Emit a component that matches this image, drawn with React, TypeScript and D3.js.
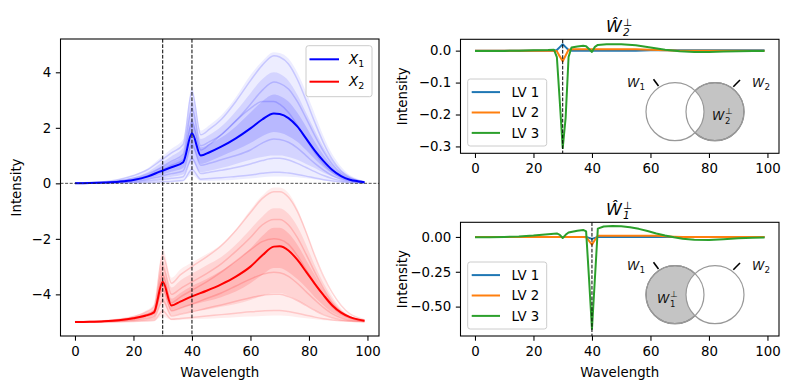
import React, { useEffect, useRef } from 'react';
import * as d3 from 'd3';

// ---- left panel: X1 (blue, spike at 40) and X2 (red, shifted by -5, spike at 30)
const blueX = [0, 5, 10, 15, 20, 25, 29, 33, 37, 40, 43, 46, 50, 55, 60, 64, 68, 70, 73, 76, 79, 82, 85, 88, 91, 94, 97, 99];
const blueMean = [0, 0.01, 0.03, 0.06, 0.12, 0.25, 0.42, 0.58, 0.76, 1.8, 1.0, 1.12, 1.32, 1.62, 1.98, 2.3, 2.52, 2.5, 2.35, 2.05, 1.62, 1.18, 0.8, 0.48, 0.26, 0.13, 0.07, 0.04];
const blueOuterHi = [0.02, 0.03, 0.06, 0.15, 0.3, 0.55, 0.9, 1.25, 1.6, 3.45, 1.9, 2.1, 2.45, 3.1, 3.9, 4.4, 4.72, 4.7, 4.5, 4.0, 3.3, 2.5, 1.7, 1.05, 0.6, 0.3, 0.15, 0.08];
const blueOuterLo = [0, 0, 0.01, 0.01, 0.02, 0.03, 0.05, 0.07, 0.1, 0.3, 0.08, 0.08, 0.1, 0.13, 0.17, 0.22, 0.25, 0.25, 0.24, 0.22, 0.18, 0.14, 0.1, 0.07, 0.05, 0.03, 0.02, 0.01];
const blueMidHi = [0.01, 0.02, 0.05, 0.11, 0.22, 0.42, 0.7, 0.98, 1.3, 3.0, 1.6, 1.75, 2.05, 2.6, 3.25, 3.75, 4.0, 3.95, 3.7, 3.2, 2.55, 1.9, 1.3, 0.8, 0.45, 0.23, 0.12, 0.07];
const blueMidLo = [0, 0.005, 0.01, 0.02, 0.04, 0.09, 0.16, 0.24, 0.32, 0.8, 0.4, 0.45, 0.55, 0.7, 0.85, 0.95, 1.0, 1.0, 0.95, 0.85, 0.7, 0.55, 0.38, 0.24, 0.14, 0.07, 0.04, 0.02];
const blueInHi = [0.01, 0.015, 0.04, 0.08, 0.16, 0.32, 0.55, 0.76, 1.0, 2.3, 1.3, 1.42, 1.65, 2.05, 2.55, 2.95, 3.2, 3.15, 2.95, 2.55, 2.05, 1.5, 1.02, 0.62, 0.34, 0.17, 0.09, 0.05];
const blueInLo = [0, 0.005, 0.02, 0.04, 0.08, 0.17, 0.3, 0.42, 0.55, 1.3, 0.7, 0.8, 0.98, 1.2, 1.45, 1.7, 1.85, 1.82, 1.7, 1.5, 1.2, 0.88, 0.58, 0.35, 0.19, 0.09, 0.05, 0.03];
// a few individual spectra
const blueSamples = [
  [0.01, 0.03, 0.06, 0.14, 0.28, 0.5, 0.8, 1.1, 1.4, 3.3, 1.75, 1.95, 2.3, 2.95, 3.7, 4.25, 4.6, 4.55, 4.3, 3.75, 3.0, 2.2, 1.45, 0.85, 0.45, 0.22, 0.1, 0.06],
  [0, 0.02, 0.04, 0.09, 0.18, 0.35, 0.55, 0.8, 1.05, 2.7, 1.35, 1.5, 1.75, 2.25, 2.85, 3.35, 3.65, 3.6, 3.4, 2.95, 2.35, 1.72, 1.15, 0.68, 0.36, 0.18, 0.09, 0.05],
  [0, 0.01, 0.03, 0.07, 0.14, 0.28, 0.45, 0.65, 0.85, 2.2, 1.2, 1.4, 1.75, 2.25, 2.7, 2.95, 2.95, 2.85, 2.55, 2.1, 1.6, 1.1, 0.7, 0.4, 0.2, 0.1, 0.05, 0.03],
  [0, 0.01, 0.02, 0.04, 0.08, 0.15, 0.25, 0.35, 0.45, 1.4, 0.65, 0.72, 0.85, 1.0, 1.2, 1.45, 1.6, 1.58, 1.48, 1.28, 1.0, 0.72, 0.48, 0.28, 0.15, 0.08, 0.04, 0.02],
  [0, 0, 0.01, 0.02, 0.04, 0.08, 0.13, 0.18, 0.24, 0.9, 0.35, 0.4, 0.47, 0.57, 0.7, 0.82, 0.9, 0.9, 0.84, 0.72, 0.57, 0.42, 0.28, 0.17, 0.09, 0.05, 0.02, 0.01],
  [0, 0, 0, 0.01, 0.02, 0.03, 0.05, 0.07, 0.1, 0.5, 0.15, 0.17, 0.2, 0.25, 0.3, 0.36, 0.4, 0.4, 0.37, 0.32, 0.26, 0.19, 0.13, 0.08, 0.05, 0.02, 0.01, 0.01],
];

const redX = [0, 5, 10, 15, 20, 24, 27, 30, 33, 36, 40, 45, 50, 55, 60, 64, 68, 70, 73, 76, 79, 82, 85, 88, 91, 94, 97, 99];
const redMean = [-5.0, -4.99, -4.97, -4.93, -4.86, -4.77, -4.65, -3.55, -4.4, -4.26, -4.07, -3.87, -3.64, -3.36, -3.0, -2.6, -2.28, -2.27, -2.42, -2.75, -3.18, -3.62, -4.03, -4.4, -4.66, -4.82, -4.91, -4.95];
const redOuterHi = [-4.98, -4.97, -4.94, -4.88, -4.78, -4.6, -4.35, -2.35, -3.4, -3.1, -2.85, -2.55, -2.2, -1.65, -0.95, -0.45, -0.15, -0.15, -0.35, -0.9, -1.7, -2.6, -3.4, -4.05, -4.5, -4.75, -4.88, -4.93];
const redOuterLo = [-5.0, -5.0, -5.0, -4.99, -4.98, -4.97, -4.95, -4.8, -4.93, -4.92, -4.9, -4.88, -4.85, -4.82, -4.8, -4.78, -4.76, -4.76, -4.78, -4.82, -4.86, -4.9, -4.93, -4.95, -4.97, -4.98, -4.98, -4.99];
const redMidHi = [-4.99, -4.98, -4.95, -4.9, -4.81, -4.66, -4.48, -2.8, -3.75, -3.5, -3.25, -2.95, -2.65, -2.2, -1.65, -1.2, -0.9, -0.9, -1.1, -1.55, -2.2, -2.95, -3.6, -4.15, -4.55, -4.78, -4.89, -4.94];
const redMidLo = [-5.0, -5.0, -4.99, -4.97, -4.94, -4.9, -4.85, -4.3, -4.75, -4.7, -4.62, -4.55, -4.45, -4.35, -4.2, -4.05, -3.95, -3.95, -4.05, -4.2, -4.38, -4.56, -4.72, -4.84, -4.91, -4.95, -4.97, -4.98];
const redInHi = [-4.99, -4.98, -4.96, -4.91, -4.83, -4.71, -4.55, -3.2, -4.15, -3.95, -3.7, -3.45, -3.15, -2.8, -2.35, -1.9, -1.6, -1.6, -1.8, -2.2, -2.75, -3.3, -3.85, -4.3, -4.6, -4.79, -4.89, -4.94];
const redInLo = [-5.0, -4.99, -4.98, -4.95, -4.9, -4.83, -4.75, -3.9, -4.6, -4.5, -4.38, -4.25, -4.1, -3.9, -3.6, -3.3, -3.05, -3.05, -3.2, -3.45, -3.75, -4.1, -4.4, -4.65, -4.8, -4.9, -4.95, -4.97];
const redSamples = [
  [-4.98, -4.97, -4.95, -4.9, -4.8, -4.65, -4.45, -2.6, -3.6, -3.3, -3.0, -2.65, -2.25, -1.7, -1.05, -0.55, -0.3, -0.3, -0.5, -1.0, -1.75, -2.6, -3.35, -3.95, -4.4, -4.7, -4.85, -4.92],
  [-4.99, -4.98, -4.96, -4.92, -4.84, -4.73, -4.58, -3.0, -4.0, -3.8, -3.55, -3.25, -2.9, -2.45, -1.95, -1.5, -1.3, -1.3, -1.5, -1.95, -2.55, -3.2, -3.8, -4.3, -4.62, -4.8, -4.9, -4.94],
  [-5, -4.99, -4.97, -4.94, -4.88, -4.8, -4.68, -3.3, -4.3, -4.1, -3.85, -3.55, -3.2, -2.8, -2.4, -2.1, -2.0, -2.02, -2.2, -2.6, -3.1, -3.6, -4.05, -4.45, -4.7, -4.85, -4.93, -4.96],
  [-5, -5, -4.98, -4.96, -4.92, -4.87, -4.8, -3.8, -4.6, -4.5, -4.35, -4.15, -3.95, -3.7, -3.45, -3.28, -3.2, -3.22, -3.35, -3.6, -3.9, -4.2, -4.48, -4.7, -4.84, -4.92, -4.96, -4.98],
  [-5, -5, -4.99, -4.98, -4.95, -4.92, -4.88, -4.2, -4.78, -4.72, -4.63, -4.5, -4.38, -4.25, -4.12, -4.04, -4.0, -4.0, -4.08, -4.22, -4.4, -4.58, -4.74, -4.85, -4.92, -4.96, -4.98, -4.99],
  [-5, -5, -5, -4.99, -4.98, -4.96, -4.94, -4.6, -4.9, -4.87, -4.83, -4.78, -4.73, -4.68, -4.63, -4.6, -4.58, -4.58, -4.62, -4.68, -4.75, -4.82, -4.88, -4.92, -4.95, -4.97, -4.98, -4.99],
];

// ---- right top: W2 perp loadings
const w2X = [0, 5, 10, 15, 20, 25, 27, 28, 29, 30, 31, 32, 33, 35, 37, 38, 39, 40, 41, 42, 45, 50, 55, 60, 65, 70, 75, 80, 85, 90, 95, 99];
const w2Lv1 = [0, 0, 0, 0, 0, 0, 0, 0.002, 0.011, 0.02, 0.011, 0.002, 0, 0, 0, 0, 0, 0, 0, 0, 0, 0, 0, 0.001, 0.001, 0.001, 0.001, 0.001, 0.001, 0.001, 0.001, 0.001];
const w2Lv2 = [0, 0, 0, 0, 0, 0, 0, -0.002, -0.018, -0.033, -0.015, 0.003, 0.004, 0.004, 0.004, 0.004, 0.004, 0.004, 0.004, 0.004, 0.004, 0.004, 0.004, 0.003, 0.001, 0, 0, 0, 0, 0, 0, 0];
const w2Lv3 = [-0.001, -0.001, -0.001, 0, 0.001, 0.002, 0.003, -0.02, -0.16, -0.305, -0.21, -0.02, 0.01, 0.013, 0.015, 0.014, 0.005, -0.004, 0.012, 0.018, 0.02, 0.02, 0.017, 0.01, 0.003, -0.002, -0.004, -0.004, -0.003, -0.002, -0.001, -0.001];

// ---- right bottom: W1 perp loadings
const w1X = [0, 5, 10, 15, 20, 25, 28, 29, 30, 31, 32, 35, 37, 38, 39, 40, 41, 42, 44, 47, 50, 53, 56, 59, 62, 65, 68, 71, 75, 80, 85, 90, 95, 99];
const w1Lv1 = [0, 0, 0, 0, 0, 0, 0, 0, 0, 0, 0, 0, 0, 0, -0.007, -0.014, -0.007, 0, 0, 0, 0, 0, 0, 0, 0, 0, 0, 0, 0, 0, 0, 0, 0, 0];
const w1Lv2 = [0, 0, 0, 0, 0, 0, 0, 0, 0, 0, 0, 0, 0, -0.002, -0.028, -0.055, -0.022, 0.008, 0.009, 0.009, 0.009, 0.009, 0.009, 0.009, 0.008, 0.005, 0.002, 0, 0, 0, 0, 0, 0, 0];
const w1Lv3 = [-0.002, -0.002, 0, 0.003, 0.01, 0.02, 0.025, 0.015, -0.008, 0.015, 0.032, 0.045, 0.05, 0.04, -0.3, -0.66, -0.3, 0.06, 0.075, 0.078, 0.077, 0.07, 0.058, 0.042, 0.025, 0.01, -0.003, -0.013, -0.02, -0.022, -0.017, -0.01, -0.006, -0.004];

const xTicks = [0, 20, 40, 60, 80, 100];
const leftYTicks = [-4, -2, 0, 2, 4];
const topYTicks = [0, -0.1, -0.2, -0.3];
const botYTicks = [0, -0.25, -0.5];
const lvNames = ['LV 1', 'LV 2', 'LV 3'];
const lvColors = ['#1f77b4', '#ff7f0e', '#2ca02c'];

const FONT = 'DejaVu Sans, sans-serif';
const FS = 13.33;

type Box = { l: number; r: number; t: number; b: number };

const App = () => {
  const svgRef = useRef<SVGSVGElement>(null);

  useEffect(() => {
    const svg = d3.select(svgRef.current);
    svg.selectAll('*').remove();

    const leftBox: Box = { l: 60.5, r: 379, t: 39, b: 336 };
    const topBox: Box = { l: 460.5, r: 779, t: 39.3, b: 153.3 };
    const botBox: Box = { l: 460.5, r: 779, t: 222.3, b: 336 };

    const defs = svg.append('defs');
    [['clipL', leftBox], ['clipT', topBox], ['clipB', botBox]].forEach(([id, b]: any) => {
      defs.append('clipPath').attr('id', id)
        .append('rect').attr('x', b.l).attr('y', b.t).attr('width', b.r - b.l).attr('height', b.b - b.t);
    });

    const drawAxes = (box: Box, x: any, y: any, yTicks: number[], yFmt: (d: number) => string, xLabel: boolean) => {
      const gx = svg.append('g')
        .attr('transform', `translate(0,${box.b})`)
        .call(d3.axisBottom(x).tickValues(xTicks).tickSize(4.67).tickPadding(5.5).tickSizeOuter(0).tickFormat((d: any) => String(d)));
      const gy = svg.append('g')
        .attr('transform', `translate(${box.l},0)`)
        .call(d3.axisLeft(y).tickValues(yTicks).tickSize(4.67).tickPadding(4.67).tickSizeOuter(0).tickFormat((d: any) => yFmt(d)));
      [gx, gy].forEach(g => {
        g.select('.domain').remove();
        g.attr('font-family', FONT).attr('font-size', FS);
        g.selectAll('line').attr('stroke', '#000').attr('stroke-width', 1.07);
        g.selectAll('text').attr('fill', '#000');
      });
      svg.append('rect')
        .attr('x', box.l).attr('y', box.t)
        .attr('width', box.r - box.l).attr('height', box.b - box.t)
        .attr('fill', 'none').attr('stroke', '#000').attr('stroke-width', 1.07);
      if (xLabel) {
        svg.append('text')
          .attr('x', (box.l + box.r) / 2).attr('y', 376.5)
          .attr('text-anchor', 'middle')
          .attr('font-family', FONT).attr('font-size', FS)
          .text('Wavelength');
      }
    };

    const yLabel = (x: number, box: Box) => {
      svg.append('text')
        .attr('transform', `translate(${x},${(box.t + box.b) / 2}) rotate(-90)`)
        .attr('text-anchor', 'middle')
        .attr('font-family', FONT).attr('font-size', FS)
        .text('Intensity');
    };

    const vline = (g: any, x: any, box: Box, v: number) => {
      g.append('line')
        .attr('x1', x(v)).attr('x2', x(v))
        .attr('y1', box.t).attr('y2', box.b)
        .attr('stroke', '#000').attr('stroke-width', 1)
        .attr('stroke-dasharray', '3.7,1.6');
    };

    // ================= left panel =================
    const xL = d3.scaleLinear().domain([-4.95, 103.95]).range([leftBox.l, leftBox.r]);
    const yL = d3.scaleLinear().domain([-5.5, 5.2]).range([leftBox.b, leftBox.t]);
    const gL = svg.append('g').attr('clip-path', 'url(#clipL)');

    const band = (xs: number[], lo: number[], hi: number[], color: string, op: number) => {
      const area = d3.area<number>()
        .x((_, i) => xL(xs[i]))
        .y0((_, i) => yL(lo[i]))
        .y1((_, i) => yL(hi[i]))
        .curve(d3.curveMonotoneX);
      gL.append('path').attr('d', area(xs)).attr('fill', color).attr('fill-opacity', op);
    };
    const curve = (xs: number[], ys: number[], color: string, op: number, w: number) => {
      const line = d3.line<number>()
        .x((_, i) => xL(xs[i]))
        .y((_, i) => yL(ys[i]))
        .curve(d3.curveMonotoneX);
      gL.append('path').attr('d', line(xs)).attr('fill', 'none')
        .attr('stroke', color).attr('stroke-opacity', op).attr('stroke-width', w);
    };

    band(blueX, blueOuterLo, blueOuterHi, '#0000ff', 0.07);
    band(blueX, blueMidLo, blueMidHi, '#0000ff', 0.1);
    band(blueX, blueInLo, blueInHi, '#0000ff', 0.13);
    blueSamples.forEach(s => curve(blueX, s, '#0000ff', 0.16, 1.5));
    band(redX, redOuterLo, redOuterHi, '#ff0000', 0.07);
    band(redX, redMidLo, redMidHi, '#ff0000', 0.1);
    band(redX, redInLo, redInHi, '#ff0000', 0.13);
    redSamples.forEach(s => curve(redX, s, '#ff0000', 0.16, 1.5));
    curve(blueX, blueMean, '#0000ff', 1, 2);
    curve(redX, redMean, '#ff0000', 1, 2);

    gL.append('line')
      .attr('x1', leftBox.l).attr('x2', leftBox.r)
      .attr('y1', yL(0)).attr('y2', yL(0))
      .attr('stroke', '#222').attr('stroke-width', 0.8)
      .attr('stroke-dasharray', '3,1.6');
    vline(gL, xL, leftBox, 30);
    vline(gL, xL, leftBox, 40);

    drawAxes(leftBox, xL, yL, leftYTicks, d => (d < 0 ? '\u2212' + Math.abs(d) : String(d)), true);
    yLabel(21, leftBox);

    // left legend
    const lg = svg.append('g');
    lg.append('rect').attr('x', 306).attr('y', 45.7).attr('width', 66).attr('height', 51)
      .attr('rx', 2.5).attr('fill', '#fff').attr('fill-opacity', 0.8).attr('stroke', '#cccccc');
    [['#0000ff', '1', 59.3], ['#ff0000', '2', 81.7]].forEach(([c, s, yy]: any) => {
      lg.append('line').attr('x1', 309.5).attr('x2', 339).attr('y1', yy).attr('y2', yy)
        .attr('stroke', c).attr('stroke-width', 2);
      const t = lg.append('text').attr('x', 349).attr('y', yy + 4.5)
        .attr('font-family', FONT).attr('font-size', FS);
      t.append('tspan').attr('font-style', 'italic').text('X');
      t.append('tspan').attr('font-size', 9.5).attr('dy', 3).text(s);
    });

    // ================= right panels =================
    const drawRight = (box: Box, clip: string, dom: [number, number], xs: number[], series: number[][],
      yTicks: number[], fmt: string, vAt: number, sub: string, shadeLeft: boolean, xLabel: boolean) => {
      const x = d3.scaleLinear().domain([-4.95, 103.95]).range([box.l, box.r]);
      const y = d3.scaleLinear().domain(dom).range([box.b, box.t]);
      const g = svg.append('g').attr('clip-path', `url(#${clip})`);
      series.forEach((s, k) => {
        const line = d3.line<number>().x((_, i) => x(xs[i])).y((_, i) => y(s[i]));
        g.append('path').attr('d', line(xs)).attr('fill', 'none')
          .attr('stroke', lvColors[k]).attr('stroke-width', 2).attr('stroke-linejoin', 'round');
      });
      vline(g, x, box, vAt);
      const f = d3.format(fmt);
      drawAxes(box, x, y, yTicks, d => f(d), xLabel);
      yLabel(407, box);

      // title  \hat{W}_sub^perp
      const tb = box.t - 7.8;
      const title = svg.append('text').attr('font-family', FONT).attr('y', tb);
      title.append('tspan').attr('x', 606).attr('font-size', 16).attr('font-style', 'italic').text('\u0174');
      title.append('tspan').attr('x', 623).attr('dy', -6).attr('font-size', 10.5).text('\u22a5');
      title.append('tspan').attr('x', 623).attr('dy', 10.5).attr('font-size', 10.5).attr('font-style', 'italic').text(sub);

      // legend
      const lg2 = svg.append('g');
      lg2.append('rect').attr('x', 467.7).attr('y', box.t + 39.7).attr('width', 79).attr('height', 67)
        .attr('rx', 2.5).attr('fill', '#fff').attr('fill-opacity', 0.8).attr('stroke', '#cccccc');
      lvNames.forEach((n, k) => {
        const yy = box.t + 52.8 + k * 20.4;
        lg2.append('line').attr('x1', 471.7).attr('x2', 500).attr('y1', yy).attr('y2', yy)
          .attr('stroke', lvColors[k]).attr('stroke-width', 2);
        lg2.append('text').attr('x', 511.5).attr('y', yy + 4.8)
          .attr('font-family', FONT).attr('font-size', FS).text(n);
      });

      // venn inset
      const cy = box.t + 72.4;
      const c1 = 675, c2 = 715, r = 29;
      const v = svg.append('g');
      const shaded = shadeLeft ? c1 : c2;
      const plain = shadeLeft ? c2 : c1;
      v.append('circle').attr('cx', shaded).attr('cy', cy).attr('r', r).attr('fill', '#c4c4c4').attr('stroke', '#777').attr('stroke-width', 1.2);
      v.append('circle').attr('cx', plain).attr('cy', cy).attr('r', r).attr('fill', '#fff').attr('stroke', '#999').attr('stroke-width', 1.2);
      v.append('circle').attr('cx', shaded).attr('cy', cy).attr('r', r).attr('fill', 'none').attr('stroke', '#999').attr('stroke-width', 1.2);
      v.append('line').attr('x1', c1 - 21.5).attr('y1', cy - 32.4).attr('x2', c1 - 16.5).attr('y2', cy - 25.7)
        .attr('stroke', '#000').attr('stroke-width', 1.6);
      v.append('line').attr('x1', c2 + 25).attr('y1', cy - 31.7).attr('x2', c2 + 18.3).attr('y2', cy - 25)
        .attr('stroke', '#000').attr('stroke-width', 1.6);
      const wLabel = (x0: number, yb: number, s: string, perp: boolean) => {
        const t = v.append('text').attr('font-family', FONT).attr('fill', '#111').attr('y', yb);
        t.append('tspan').attr('x', x0).attr('font-size', 12.5).attr('font-style', 'italic').text('W');
        if (perp) {
          t.append('tspan').attr('x', x0 + 13).attr('dy', -5.5).attr('font-size', 8.5).text('\u22a5');
          t.append('tspan').attr('x', x0 + 13).attr('dy', 9.5).attr('font-size', 8.5).text(s);
        } else {
          t.append('tspan').attr('x', x0 + 12.5).attr('dy', 3).attr('font-size', 8.8).text(s);
        }
      };
      wLabel(627, cy - 24.7, '1', false);
      wLabel(752, cy - 24.7, '2', false);
      if (shadeLeft) wLabel(657, cy + 8, '1', true);
      else wLabel(712, cy + 8, '2', true);
    };

    drawRight(topBox, 'clipT', [-0.3215, 0.0355], w2X, [w2Lv1, w2Lv2, w2Lv3], topYTicks, '.1f', 30, '2', false, false);
    drawRight(botBox, 'clipB', [-0.711, 0.105], w1X, [w1Lv1, w1Lv2, w1Lv3], botYTicks, '.2f', 40, '1', true, true);
  }, []);

  return (
    <svg ref={svgRef} width={791} height={389}
      style={{ position: 'absolute', left: 0, top: 0, background: '#fff' }} />
  );
};

export default App;
